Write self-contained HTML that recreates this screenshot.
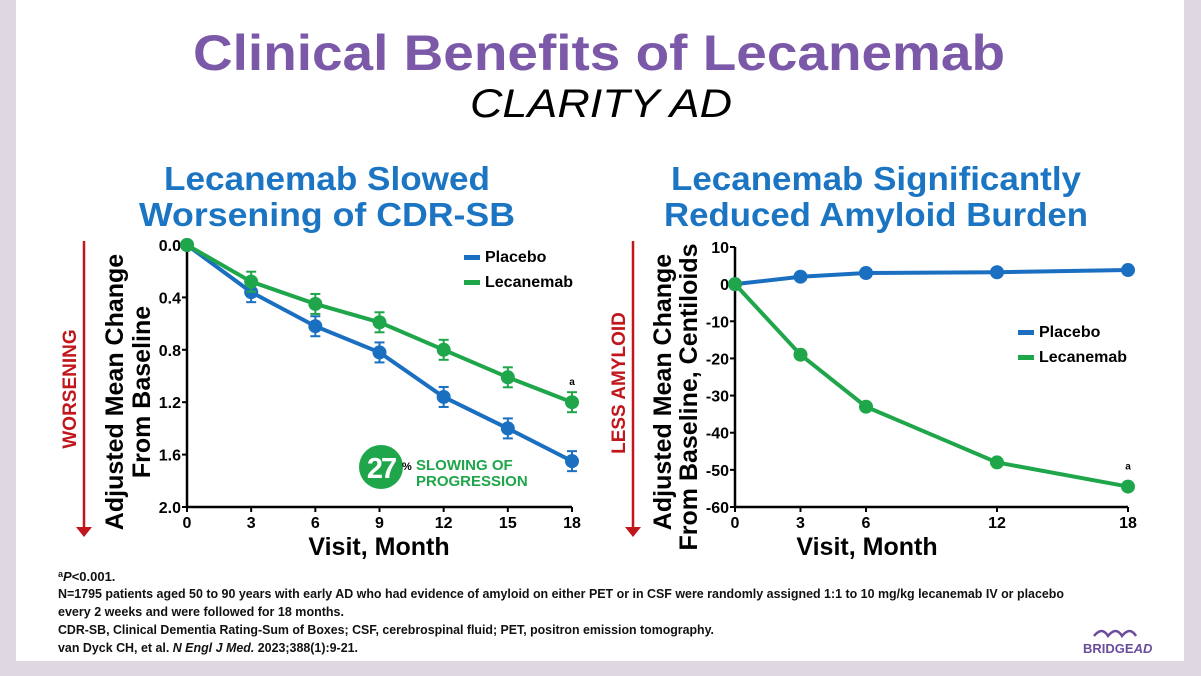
<!DOCTYPE html>
<html><head><meta charset="utf-8"><style>
html,body{margin:0;padding:0;background:#e4e0e8;}
svg{display:block;font-family:"Liberation Sans",Arial,sans-serif;}
</style></head><body>
<svg id="s" width="1201" height="676" viewBox="0 0 1201 676" xmlns="http://www.w3.org/2000/svg">
<rect x="0" y="0" width="1201" height="676" fill="#ddd8e2"/>
<rect x="16" y="0" width="1168" height="661" fill="#ffffff"/>
<text x="599" y="70" text-anchor="middle" font-size="50" font-weight="bold" fill="#7b59a8" textLength="812" lengthAdjust="spacingAndGlyphs">Clinical Benefits of Lecanemab</text>
<text x="601" y="117" text-anchor="middle" font-size="40" font-style="italic" fill="#000" textLength="262" lengthAdjust="spacingAndGlyphs">CLARITY AD</text>
<g fill="#1b75c2" font-size="33" font-weight="bold" text-anchor="middle">
<text x="327" y="190" textLength="326" lengthAdjust="spacingAndGlyphs">Lecanemab Slowed</text>
<text x="327" y="226" textLength="376" lengthAdjust="spacingAndGlyphs">Worsening of CDR-SB</text>
<text x="876" y="190" textLength="410" lengthAdjust="spacingAndGlyphs">Lecanemab Significantly</text>
<text x="876" y="226" textLength="424" lengthAdjust="spacingAndGlyphs">Reduced Amyloid Burden</text>
</g>
<g id="left"></g>
<g id="right"></g>
<g font-size="13" font-weight="bold" fill="#111">
<text x="58" y="581"><tspan font-size="9" dy="-4">a</tspan><tspan font-style="italic" dy="4">P</tspan>&lt;0.001.</text>
<text x="58" y="598" textLength="1006" lengthAdjust="spacingAndGlyphs">N=1795 patients aged 50 to 90 years with early AD who had evidence of amyloid on either PET or in CSF were randomly assigned 1:1 to 10 mg/kg lecanemab IV or placebo</text>
<text x="58" y="616" textLength="286" lengthAdjust="spacingAndGlyphs">every 2 weeks and were followed for 18 months.</text>
<text x="58" y="634" textLength="656" lengthAdjust="spacingAndGlyphs">CDR-SB, Clinical Dementia Rating-Sum of Boxes; CSF, cerebrospinal fluid; PET, positron emission tomography.</text>
<text x="58" y="652" textLength="300" lengthAdjust="spacingAndGlyphs">van Dyck CH, et al. <tspan font-style="italic">N Engl J Med.</tspan> 2023;388(1):9-21.</text>
</g>
<g>
<path d="M1094 636 q8 -10 14 0 q8 -10 14 0 q8 -10 14 0" stroke="#6a4c9c" stroke-width="2.5" fill="none"/>
<text x="1083" y="653" font-size="13" font-weight="bold" fill="#6a4c9c">BRIDGE<tspan font-style="italic">AD</tspan></text>
</g>
</svg>
<script>
const NS='http://www.w3.org/2000/svg';
// Left chart data
const leftMonths=[0,3,6,9,12,15,18];
const leftPlacebo=[0,0.36,0.62,0.82,1.16,1.40,1.65];
const leftLecanemab=[0,0.28,0.45,0.59,0.80,1.01,1.20];
const leftYTicks=[0,0.4,0.8,1.2,1.6,2.0];
const leftYLabels=["0.0","0.4","0.8","1.2","1.6","2.0"];
const leftXTicks=[0,3,6,9,12,15,18];
// Right chart data
const rightMonths=[0,3,6,12,18];
const rightPlacebo=[0,2,3,3.2,3.8];
const rightLecanemab=[0,-19,-33,-48,-54.5];
const rightYTicks=[10,0,-10,-20,-30,-40,-50,-60];
const rightXTicks=[0,3,6,12,18];

function el(tag,attrs,parent,txt){const e=document.createElementNS(NS,tag);for(const k in attrs)e.setAttribute(k,attrs[k]);if(txt!==undefined)e.textContent=txt;parent.appendChild(e);return e;}
const BLUE='#1b6fc0',GREEN='#1fa64a';

function drawChart(g,o){
  const sx=v=>o.x0+(v-o.xmin)/(o.xmax-o.xmin)*(o.x1-o.x0);
  const sy=v=>o.y0+(v-o.ymin)/(o.ymax-o.ymin)*(o.y1-o.y0);
  let a=el('line',{x1:o.x0,y1:o.y0,x2:o.x0,y2:o.y1,stroke:'#000','stroke-width':2.5},g);
  
  a=el('line',{x1:o.x0,y1:o.y1,x2:o.x1,y2:o.y1,stroke:'#000','stroke-width':2.5},g);
  
  o.yticks.forEach((v,i)=>{
    el('line',{x1:o.x0-5,y1:sy(v),x2:o.x0,y2:sy(v),stroke:'#000','stroke-width':2},g);
    const t=el('text',{x:o.x0-6,y:sy(v)+6,'text-anchor':'end','font-size':16,'font-weight':'bold'},g,o.ylabels[i]);
    
  });
  o.xticks.forEach(v=>{
    el('line',{x1:sx(v),y1:o.y1,x2:sx(v),y2:o.y1+5,stroke:'#000','stroke-width':2},g);
    const t=el('text',{x:sx(v),y:o.y1+21,'text-anchor':'middle','font-size':16,'font-weight':'bold'},g,String(v));
    
  });
  o.series.forEach(s=>{
    const pts=o.months.map((m,i)=>sx(m)+','+sy(s.vals[i])).join(' ');
    const pl=el('polyline',{points:pts,fill:'none',stroke:s.color,'stroke-width':4},g);
    
    o.months.forEach((m,i)=>{
      if(i>0&&o.err){el('line',{x1:sx(m),y1:sy(s.vals[i])-10,x2:sx(m),y2:sy(s.vals[i])+10,stroke:s.color,'stroke-width':2},g);
        el('line',{x1:sx(m)-5,y1:sy(s.vals[i])-10,x2:sx(m)+5,y2:sy(s.vals[i])-10,stroke:s.color,'stroke-width':2},g);
        el('line',{x1:sx(m)-5,y1:sy(s.vals[i])+10,x2:sx(m)+5,y2:sy(s.vals[i])+10,stroke:s.color,'stroke-width':2},g);}
      const c=el('circle',{cx:sx(m),cy:sy(s.vals[i]),r:7,fill:s.color},g);
      
    });
  });
  return {sx,sy};
}
const L=document.getElementById('left');
const ls=drawChart(L,{x0:187,x1:572,y0:245,y1:507,xmin:0,xmax:18,ymin:0,ymax:2,months:leftMonths,xticks:leftXTicks,yticks:leftYTicks,ylabels:leftYLabels,err:true,
  series:[{name:'placebo',vals:leftPlacebo,color:BLUE},{name:'lecanemab',vals:leftLecanemab,color:GREEN}]});
const R=document.getElementById('right');
const rs=drawChart(R,{x0:735,x1:1128,y0:247,y1:507,xmin:0,xmax:18,ymin:10,ymax:-60,months:rightMonths,xticks:rightXTicks,yticks:rightYTicks,ylabels:rightYTicks.map(String),err:false,
  series:[{name:'placebo',vals:rightPlacebo,color:BLUE},{name:'lecanemab',vals:rightLecanemab,color:GREEN}]});

function staticText(parent,attrs,txt,name){const t=el('text',attrs,parent,txt);return t;}
function legend(parent,x,y,name){
  const g=el('g',{},parent);
  el('rect',{x:x,y:y-7,width:16,height:5,fill:BLUE},g);
  staticText(g,{x:x+21,y:y,'font-size':16,'font-weight':'bold'},'Placebo','legend-placebo');
  el('rect',{x:x,y:y+18,width:16,height:5,fill:GREEN},g);
  staticText(g,{x:x+21,y:y+25,'font-size':16,'font-weight':'bold'},'Lecanemab','legend-lecanemab');
}
legend(L,464,262,'left-legend');
legend(R,1018,337,'right-legend');
staticText(L,{x:ls.sx(18),y:ls.sy(1.2)-17,'text-anchor':'middle','font-size':10,'font-weight':'bold'},'a','significance-marker');
staticText(R,{x:rs.sx(18),y:rs.sy(-54.5)-17,'text-anchor':'middle','font-size':10,'font-weight':'bold'},'a','significance-marker');
staticText(L,{x:379,y:555,'text-anchor':'middle','font-size':25,'font-weight':'bold'},'Visit, Month','left-x-axis-title');
staticText(R,{x:867,y:555,'text-anchor':'middle','font-size':25,'font-weight':'bold'},'Visit, Month','right-x-axis-title');
staticText(L,{transform:'translate(123,392) rotate(-90)','text-anchor':'middle','font-size':25,'font-weight':'bold'},'Adjusted Mean Change','left-y-axis-title-line1');
staticText(L,{transform:'translate(150,392) rotate(-90)','text-anchor':'middle','font-size':25,'font-weight':'bold'},'From Baseline','left-y-axis-title-line2');
staticText(R,{transform:'translate(671,392) rotate(-90)','text-anchor':'middle','font-size':25,'font-weight':'bold'},'Adjusted Mean Change','right-y-axis-title-line1');
staticText(R,{transform:'translate(697,397) rotate(-90)','text-anchor':'middle','font-size':25,'font-weight':'bold'},'From Baseline, Centiloids','right-y-axis-title-line2');
function arrow(parent,x,label,ly,name){
  const g=el('g',{},parent);
  el('line',{x1:x,y1:241,x2:x,y2:528,stroke:'#c0161c','stroke-width':2.5},g);
  el('polygon',{points:(x-8)+',527 '+(x+8)+',527 '+x+',537',fill:'#c0161c'},g);
  staticText(g,{transform:'translate('+(x-8)+','+ly+') rotate(-90)','text-anchor':'middle','font-size':19,'font-weight':'bold',fill:'#c0161c'},label,name+'-label');
}
arrow(L,84,'WORSENING',389,'worsening-arrow');
arrow(R,633,'LESS AMYLOID',383,'less-amyloid-arrow');
const b=el('g',{},L);
el('circle',{cx:381,cy:467,r:22,fill:GREEN},b);
staticText(b,{x:381,y:478,'text-anchor':'middle','font-size':29,'font-weight':'bold',fill:'#fff','letter-spacing':'-2'},'27','badge-number');
staticText(b,{x:402,y:470,'font-size':11,'font-weight':'bold'},'%','badge-percent');
staticText(b,{x:416,y:470,'font-size':15,'font-weight':'bold',fill:GREEN},'SLOWING OF','badge-text-line1');
staticText(b,{x:416,y:486,'font-size':15,'font-weight':'bold',fill:GREEN},'PROGRESSION','badge-text-line2');
</script>
</body></html>
